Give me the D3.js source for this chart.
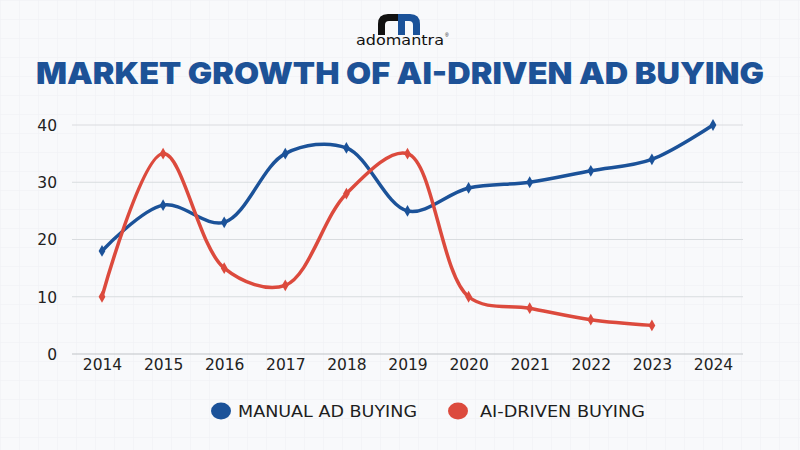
<!DOCTYPE html>
<html><head><meta charset="utf-8">
<script src="https://cdn.jsdelivr.net/npm/d3@7"></script>
<style>
html,body{margin:0;padding:0;background:#f7f8fa;}
svg{display:block;}
</style></head>
<body><svg id="c" width="800" height="450"></svg>
<script>
const years = ["2014","2015","2016","2017","2018","2019","2020","2021","2022","2023","2024"];
const manualValues = [18,26,23,35,36,25,29,30,32,34,40];
const aiYears = ["2014","2015","2016","2017","2018","2019","2020","2021","2022","2023"];
const aiValues = [10,35,15,12,28,35,10,8,6,5];
const yTicks = [0,10,20,30,40];
const seriesNames = ["MANUAL AD BUYING","AI-DRIVEN BUYING"];
const colors = ["#1b5299","#dc4a3d"];

const svg = d3.select("#c");
const W=800,H=450;

// faint graph-paper background
const defs = svg.append("defs");
const pat = defs.append("pattern").attr("id","grid").attr("width",19).attr("height",19).attr("patternUnits","userSpaceOnUse");
pat.append("path").attr("d","M19 0 L0 0 0 19").attr("fill","none").attr("stroke","#eef0f3").attr("stroke-width",1);
svg.append("rect").attr("width",W).attr("height",H).attr("fill","#f8f9fb");
svg.append("rect").attr("width",W).attr("height",H).attr("fill","url(#grid)");

// logo
const lg = svg.append("g").attr("transform","translate(400,0)");
lg.append("path").attr("d","M-22 35 L-22 24 Q-22 14 -12 14 L2 14 L2 21 L-11 21 Q-15 21 -15 25 L-15 35 Z").attr("fill","#111");
lg.append("path").attr("d","M-2 35 L-2 14 L10 14 Q20 14 20 24 L20 35 L13 35 L13 25 Q13 21 9 21 L5 21 L5 35 Z").attr("fill","#1b5299");
lg.append("text").attr("x",0).attr("y",45).attr("text-anchor","middle")
  .attr("font-family","'DejaVu Sans', sans-serif").attr("font-size",14).attr("font-weight",500)
  .attr("fill","#111").attr("textLength",88).attr("lengthAdjust","spacingAndGlyphs").text("adomantra");
lg.append("text").attr("x",45).attr("y",37).attr("font-family","sans-serif").attr("font-size",5).attr("fill","#111").text("®");

// title
svg.append("text").attr("x",400).attr("y",84).attr("text-anchor","middle")
  .attr("font-family","Inter, 'Open Sans', sans-serif").attr("font-weight",900).attr("font-size",30)
  .attr("fill","#1d5297").attr("textLength",728).attr("lengthAdjust","spacingAndGlyphs")
  .text("MARKET GROWTH OF AI-DRIVEN AD BUYING");

// scales
const x = d3.scalePoint().domain(years).range([102,713]);
const y = d3.scaleLinear().domain([0,40]).range([354,125]);

// gridlines
svg.append("g").selectAll("line").data(yTicks).join("line")
  .attr("x1",72).attr("x2",743).attr("y1",d=>y(d)).attr("y2",d=>y(d))
  .attr("stroke",d=>d===0?"#bfc3c8":"#d9dcdf").attr("stroke-width",1.2);

const tickFont = "'DejaVu Sans', sans-serif";
const yAxis = d3.axisLeft(y).tickValues(yTicks).tickSize(0).tickPadding(0);
const ya = svg.append("g").attr("transform","translate(57,0)").call(yAxis);
ya.select(".domain").remove();
ya.selectAll("text").attr("font-family",tickFont).attr("font-size",15.5).attr("fill","#222").attr("dy","0.35em");

const xAxis = d3.axisBottom(x).tickSize(0).tickPadding(0);
const xa = svg.append("g").attr("transform","translate(0,359)").call(xAxis);
xa.select(".domain").remove();
xa.selectAll("text").attr("font-family",tickFont).attr("font-size",15.5).attr("fill","#222").attr("dy","0.71em");

const line = d3.line().curve(d3.curveCatmullRom.alpha(0.5));
const manualPts = years.map((yr,i)=>[x(yr),y(manualValues[i])]);
const aiPts = aiYears.map((yr,i)=>[x(yr),y(aiValues[i])]);

[[manualPts,colors[0]],[aiPts,colors[1]]].forEach(([pts,c])=>{
  svg.append("path").attr("d",line(pts)).attr("fill","none").attr("stroke",c).attr("stroke-width",3.5).attr("stroke-linecap","round");
  svg.append("g").selectAll("path").data(pts).join("path")
    .attr("d",d3.symbol(d3.symbolDiamond,40))
    .attr("transform",d=>`translate(${d[0]},${d[1]})`).attr("fill",c);
});

const legend = [{n:seriesNames[0],c:colors[0],cx:221,tx:238,w:179},{n:seriesNames[1],c:colors[1],cx:458,tx:480,w:165}];
legend.forEach(l=>{
  svg.append("ellipse").attr("cx",l.cx).attr("cy",411).attr("rx",10).attr("ry",8.5).attr("fill",l.c);
  svg.append("text").attr("x",l.tx).attr("y",417).attr("font-family","'DejaVu Sans', sans-serif")
    .attr("font-size",15.5).attr("font-weight",400).attr("fill","#1e1e1e")
    .attr("textLength",l.w).attr("lengthAdjust","spacingAndGlyphs").text(l.n);
});
</script></body></html>
